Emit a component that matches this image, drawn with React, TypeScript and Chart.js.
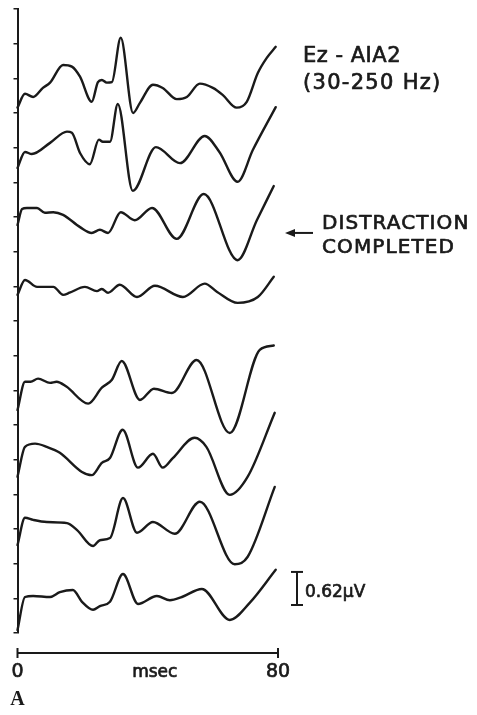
import { useEffect, useRef } from "react";
import { Chart, registerables } from "chart.js";

Chart.register(...registerables);

// ---- data -----------------------------------------------------------------

const TIME_RANGE_MS = [0, 80];
const TIME_TICKS_MS = [0, 80];
const TIME_TICK_LABELS = ["0", "80"];
const TIME_AXIS_TITLE = "msec";

const UV_PER_DIV = 0.65;
const AXIS_DIVISIONS = 18;
const SCALE_BAR_UV = 0.62;
const SCALE_BAR_LABEL = "0.62\u00b5V";

const MONTAGE_LABEL = ["Ez - AIA2", "(30-250 Hz)"];
const EVENT_LABEL = ["DISTRACTION", "COMPLETED"];
const EVENT_TRACE_INDEX = 2;
const PANEL_LETTER = "A";

// baseline of each averaged trace, in µV above the foot of the vertical axis (top trace first)
const TRACE_BASELINES_UV = [10.09, 9.02, 7.97, 6.49, 4.71, 3.49, 2.12, 0.675];

const TRACE_1_MS = [0, 2.3, 4.8, 7.8, 10, 14, 16.7, 19.2, 22.8, 24.7, 25.9, 27.4, 29, 31.7, 35.5, 37.6, 41.6, 44.6, 48.9, 52, 56, 60, 63, 67.3, 70.4, 73.8, 76.5, 79.3];
const TRACE_1_UV = [-0.24, 0.02, -0.04, 0.13, 0.23, 0.56, 0.53, 0.34, -0.13, 0.24, 0.28, 0.23, 0.24, 1.07, -0.34, -0.15, 0.19, 0.13, -0.08, -0.04, 0.21, 0.13, 0, -0.24, -0.13, 0.41, 0.69, 0.9];

const TRACE_2_MS = [0, 2.3, 4.4, 10, 15.2, 16.7, 19.2, 22.2, 25, 26.2, 28.4, 30.8, 35.4, 42.5, 49.9, 57.5, 62, 67.6, 72.3, 79.3];
const TRACE_2_UV = [-0.3, 0, -0.04, 0.17, 0.38, 0.36, -0.02, -0.23, 0.23, 0.19, 0.19, 0.9, -0.73, 0.09, -0.21, 0.3, 0, -0.56, 0.04, 0.84];

const TRACE_3_MS = [0, 1.4, 2.9, 6, 8.4, 11, 14, 19.2, 22.8, 25.3, 27.8, 31.7, 36, 41.3, 48.9, 57.2, 67.6, 73.5, 78.7];
const TRACE_3_UV = [-0.32, -0.02, 0, 0, -0.09, -0.08, -0.13, -0.36, -0.47, -0.41, -0.47, -0.08, -0.23, 0, -0.58, 0.26, -0.98, -0.23, 0.41];

const TRACE_4_MS = [0, 2.3, 6, 11, 14, 16, 20.7, 24.4, 25.9, 27.8, 31.4, 36.7, 42.2, 50.8, 57.5, 61.2, 67.6, 73.8, 78.7];
const TRACE_4_UV = [-0.15, 0.13, 0, 0, -0.15, -0.11, 0, -0.08, -0.04, -0.11, 0.04, -0.19, 0.02, -0.19, 0.06, -0.09, -0.3, -0.19, 0.19];

const TRACE_5_MS = [0, 2.3, 4, 6.3, 10, 12, 15, 21.7, 25.9, 29, 32, 37.6, 41.9, 47.4, 55, 65.2, 74.4, 78.7];
const TRACE_5_UV = [-0.53, 0, 0, 0.06, -0.02, 0, -0.09, -0.41, -0.11, 0.04, 0.39, -0.34, -0.13, -0.21, 0.41, -0.96, 0.6, 0.68];

const TRACE_6_MS = [0, 2.3, 5.4, 9, 13, 19.8, 22.8, 25.9, 28.4, 32.3, 37, 41.6, 44.6, 47.7, 54.4, 58, 65.2, 70.7, 79];
const TRACE_6_UV = [-0.56, 0, 0.06, 0, -0.11, -0.47, -0.53, -0.3, -0.21, 0.32, -0.39, -0.13, -0.39, -0.21, 0.17, 0, -0.9, -0.56, 0.64];

const TRACE_7_MS = [0, 2.3, 4.8, 9, 15.2, 18.3, 23.2, 25.3, 28.4, 32.4, 36.7, 41.6, 48.3, 56, 66.7, 70.7, 79];
const TRACE_7_UV = [-0.47, 0.04, 0, -0.04, -0.06, -0.19, -0.49, -0.38, -0.34, 0.41, -0.24, -0.04, -0.26, 0.34, -0.83, -0.69, 0.62];

const TRACE_8_MS = [0, 2.3, 4.8, 10, 13, 17, 19.8, 23.2, 25.3, 28.4, 32.4, 37, 42.8, 46.8, 50.5, 56.6, 65.2, 71.3, 79.3];
const TRACE_8_UV = [-0.62, 0, 0.02, 0, 0.09, 0.13, -0.09, -0.24, -0.17, -0.09, 0.43, -0.13, 0.02, -0.06, 0, 0.15, -0.43, -0.11, 0.51];

const TRACES = [
  [TRACE_1_MS, TRACE_1_UV],
  [TRACE_2_MS, TRACE_2_UV],
  [TRACE_3_MS, TRACE_3_UV],
  [TRACE_4_MS, TRACE_4_UV],
  [TRACE_5_MS, TRACE_5_UV],
  [TRACE_6_MS, TRACE_6_UV],
  [TRACE_7_MS, TRACE_7_UV],
  [TRACE_8_MS, TRACE_8_UV],
];

// ---- styling --------------------------------------------------------------

const WIDTH = 477;
const HEIGHT = 715;
const INK = "#1a1a1a";
const SANS = '"DejaVu Sans", "Liberation Sans", sans-serif';
const SERIF = '"Liberation Serif", "DejaVu Serif", serif';

function strokeLine(ctx: CanvasRenderingContext2D, x1: number, y1: number, x2: number, y2: number) {
  ctx.beginPath();
  ctx.moveTo(x1, y1);
  ctx.lineTo(x2, y2);
  ctx.stroke();
}

// lettering with a slightly heavier stroke than the regular face
function letter(ctx: CanvasRenderingContext2D, text: string, x: number, y: number) {
  ctx.fillText(text, x, y);
  ctx.save();
  ctx.lineWidth = 0.7;
  ctx.lineJoin = "round";
  ctx.strokeText(text, x, y);
  ctx.restore();
}

// Time bar, labels, arrow and calibration bar drawn around the trace stack.
const figureMarks = {
  id: "figureMarks",
  afterDraw(chart: any) {
    const { ctx, chartArea } = chart;
    const xs = chart.scales.x;
    const ys = chart.scales.y;
    ctx.save();
    ctx.strokeStyle = INK;
    ctx.fillStyle = INK;
    ctx.lineWidth = 2;

    // time bar
    const barY = chartArea.bottom + 20;
    const bx0 = xs.getPixelForValue(TIME_TICKS_MS[0]);
    const bx1 = xs.getPixelForValue(TIME_TICKS_MS[TIME_TICKS_MS.length - 1]);
    strokeLine(ctx, bx0, barY, bx1, barY);
    ctx.font = `19px ${SANS}`;
    ctx.textAlign = "center";
    ctx.textBaseline = "alphabetic";
    TIME_TICKS_MS.forEach((t, i) => {
      const px = xs.getPixelForValue(t);
      strokeLine(ctx, px, barY - 5, px, barY + 5);
      letter(ctx, TIME_TICK_LABELS[i], px, barY + 24);
    });
    ctx.font = `17px ${SANS}`;
    letter(ctx, TIME_AXIS_TITLE, (bx0 + bx1) / 2 + 7, barY + 24);

    // panel letter
    ctx.font = `bold 20px ${SERIF}`;
    ctx.fillText(PANEL_LETTER, bx0, barY + 52);

    // montage label
    const textX = chartArea.right + 25;
    ctx.textAlign = "left";
    ctx.font = `21px ${SANS}`;
    (ctx as any).letterSpacing = "0.5px";
    letter(ctx, MONTAGE_LABEL[0], textX, 62);
    (ctx as any).letterSpacing = "1.3px";
    letter(ctx, MONTAGE_LABEL[1], textX, 89);

    // event marker next to the third trace
    const arrowY = ys.getPixelForValue(TRACE_BASELINES_UV[EVENT_TRACE_INDEX]) + 25;
    const tipX = chartArea.right + 7;
    strokeLine(ctx, tipX + 6, arrowY, tipX + 28, arrowY);
    ctx.beginPath();
    ctx.moveTo(tipX, arrowY);
    ctx.lineTo(tipX + 10, arrowY - 4);
    ctx.lineTo(tipX + 10, arrowY + 4);
    ctx.closePath();
    ctx.fill();
    ctx.font = `20px ${SANS}`;
    (ctx as any).letterSpacing = "1.1px";
    letter(ctx, EVENT_LABEL[0], chartArea.right + 44, arrowY - 4);
    letter(ctx, EVENT_LABEL[1], chartArea.right + 44, arrowY + 20);

    // calibration bar
    const calX = chartArea.right + 19;
    const calBottom = ys.getPixelForValue(0) - 28;
    const calTop = calBottom - (ys.getPixelForValue(0) - ys.getPixelForValue(SCALE_BAR_UV));
    strokeLine(ctx, calX, calTop, calX, calBottom);
    strokeLine(ctx, calX - 6, calTop, calX + 6, calTop);
    strokeLine(ctx, calX - 6, calBottom, calX + 6, calBottom);
    (ctx as any).letterSpacing = "0px";
    ctx.font = `17px ${SANS}`;
    letter(ctx, SCALE_BAR_LABEL, calX + 8, calBottom - 8);

    ctx.restore();
  },
};

export default function App() {
  const canvasRef = useRef<HTMLCanvasElement | null>(null);

  useEffect(() => {
    const canvas = canvasRef.current;
    if (!canvas) return;

    const datasets = TRACES.map(([times, values], i) => ({
      label: `Trace ${i + 1}`,
      data: times.map((t, j) => ({ x: t, y: TRACE_BASELINES_UV[i] + values[j] })),
      borderColor: INK,
      borderWidth: 2.4,
      borderJoinStyle: "round" as const,
      borderCapStyle: "round" as const,
      pointRadius: 0,
      fill: false,
      cubicInterpolationMode: "monotone" as const,
      clip: false as any,
    }));

    const chart = new Chart(canvas, {
      type: "line",
      data: { datasets },
      options: {
        animation: false,
        responsive: false,
        devicePixelRatio: 1,
        layout: { padding: { left: 13.5, right: 199, top: 9, bottom: 82 } },
        plugins: { legend: { display: false }, tooltip: { enabled: false } },
        events: [],
        scales: {
          x: {
            type: "linear",
            display: false,
            min: TIME_RANGE_MS[0],
            max: TIME_RANGE_MS[1],
          },
          y: {
            type: "linear",
            min: 0,
            max: UV_PER_DIV * AXIS_DIVISIONS,
            afterBuildTicks: (scale: any) => {
              scale.ticks = Array.from({ length: AXIS_DIVISIONS + 1 }, (_, i) => ({ value: i * UV_PER_DIV }));
            },
            ticks: { display: false },
            grid: { drawOnChartArea: false, drawTicks: true, tickLength: 4, color: INK, lineWidth: 1.5 },
            border: { display: true, color: INK, width: 2 },
          },
        },
      },
      plugins: [figureMarks],
    });

    return () => chart.destroy();
  }, []);

  return (
    <div style={{ position: "absolute", left: 0, top: 0, width: WIDTH, height: HEIGHT, background: "#fff" }}>
      <canvas ref={canvasRef} width={WIDTH} height={HEIGHT} />
    </div>
  );
}
